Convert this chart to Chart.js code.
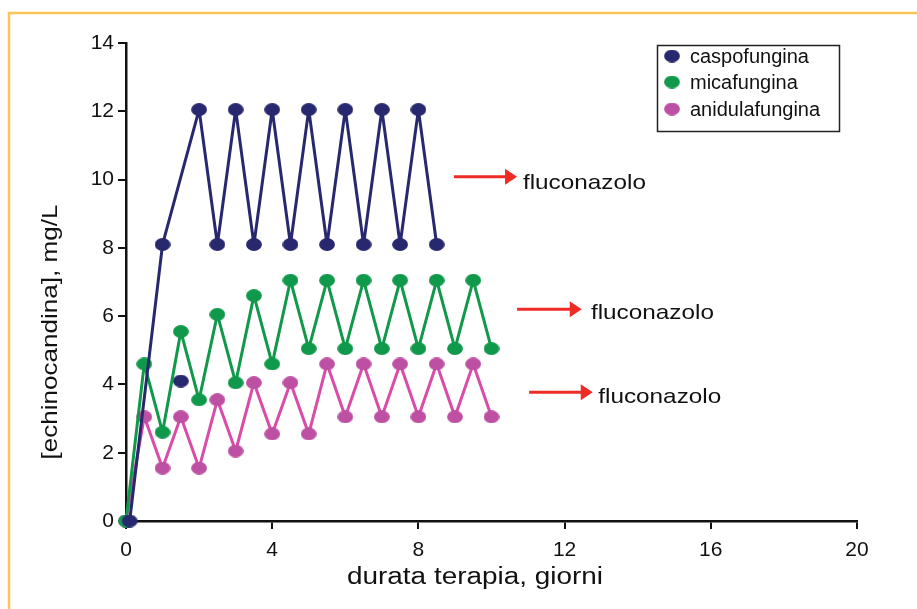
<!DOCTYPE html>
<html><head><meta charset="utf-8">
<script src="https://cdn.jsdelivr.net/npm/chart.js@4.4.1/dist/chart.umd.min.js"></script>
<style>html,body{margin:0;padding:0;background:#fff;}#wrap{width:917px;height:609px;}</style>
</head><body><div id="wrap"><canvas id="c" width="917" height="609"></canvas></div>
<script>
// ---- data ----
const seriesNames = ['caspofungina', 'micafungina', 'anidulafungina'];
const caspoX = [0.1, 1, 2, 2.5, 3, 3.5, 4, 4.5, 5, 5.5, 6, 6.5, 7, 7.5, 8, 8.5];
const caspoY = [0, 8.1, 12.05, 8.1, 12.05, 8.1, 12.05, 8.1, 12.05, 8.1, 12.05, 8.1, 12.05, 8.1, 12.05, 8.1];
const caspoLoneX = [1.5];
const caspoLoneY = [4.1];
const micaX = [0, 0.5, 1, 1.5, 2, 2.5, 3, 3.5, 4, 4.5, 5, 5.5, 6, 6.5, 7, 7.5, 8, 8.5, 9, 9.5, 10];
const micaY = [0, 4.6, 2.6, 5.55, 3.55, 6.05, 4.05, 6.6, 4.6, 7.05, 5.05, 7.05, 5.05, 7.05, 5.05, 7.05, 5.05, 7.05, 5.05, 7.05, 5.05];
const anidX = [0, 0.5, 1, 1.5, 2, 2.5, 3, 3.5, 4, 4.5, 5, 5.5, 6, 6.5, 7, 7.5, 8, 8.5, 9, 9.5, 10];
const anidY = [0, 3.05, 1.55, 3.05, 1.55, 3.55, 2.05, 4.05, 2.55, 4.05, 2.55, 4.6, 3.05, 4.6, 3.05, 4.6, 3.05, 4.6, 3.05, 4.6, 3.05];
const xTicks = [0, 4, 8, 12, 16, 20];
const yTicks = [0, 2, 4, 6, 8, 10, 12, 14];
const xTitle = 'durata terapia, giorni';
const yTitle = '[echinocandina], mg/L';
const noteText = 'fluconazolo';
const noteFromX = [8.97, 10.70, 11.03];
const noteToX = [10.70, 12.47, 12.77];
const noteArrowY = [10.08, 6.2, 3.77];
const noteTextX = [10.86, 12.72, 12.92];
const noteTextY = [9.9, 6.08, 3.62];

// ---- styles ----
const FONT = '"Liberation Sans", Arial, Helvetica, sans-serif';
const navy = '#28286f', green = '#10994a', pinkDot = '#bd50a3', pinkLine = '#d94ca8';
function ellipseImg(color) {
  const c = document.createElement('canvas');
  c.width = 16; c.height = 13;
  const g = c.getContext('2d');
  g.fillStyle = color;
  g.beginPath(); g.ellipse(8, 6.5, 7.9, 6.4, 0, 0, Math.PI * 2); g.fill();
  return c;
}
const imgs = [ellipseImg(navy), ellipseImg(green), ellipseImg(pinkDot)];
const zip = (xs, ys) => xs.map((x, i) => ({x, y: ys[i]}));

function stretchText(ctx, text, cx, cy, size, target, rot) {
  ctx.save();
  ctx.font = size + 'px ' + FONT;
  const w = ctx.measureText(text).width;
  ctx.translate(cx, cy);
  if (rot) ctx.rotate(rot);
  ctx.scale(target / w, 1);
  ctx.textAlign = 'center'; ctx.textBaseline = 'middle';
  ctx.fillText(text, 0, 0);
  ctx.restore();
}

const decor = {
  id: 'decor',
  beforeDraw(chart) {
    const ctx = chart.ctx;
    ctx.save();
    ctx.fillStyle = '#fff'; ctx.fillRect(0, 0, chart.width, chart.height);
    ctx.strokeStyle = '#fbc55b'; ctx.lineWidth = 2.5;
    ctx.strokeRect(9, 13, 1200, 1200);
    ctx.restore();
  },
  afterDraw(chart) {
    const ctx = chart.ctx, xs = chart.scales.x, ys = chart.scales.y;
    ctx.save();
    ctx.fillStyle = '#111';
    // axis titles
    stretchText(ctx, xTitle, 475, 578, 23, 256, 0);
    stretchText(ctx, yTitle, 51, 332, 22, 255, -Math.PI / 2);
    // arrows + notes
    for (let i = 0; i < noteFromX.length; i++) {
      const x0 = xs.getPixelForValue(noteFromX[i]);
      const x1 = xs.getPixelForValue(noteToX[i]);
      const y = ys.getPixelForValue(noteArrowY[i]);
      ctx.strokeStyle = '#ee2b24'; ctx.fillStyle = '#ee2b24'; ctx.lineWidth = 3;
      ctx.beginPath(); ctx.moveTo(x0, y); ctx.lineTo(x1 - 11, y); ctx.stroke();
      ctx.beginPath(); ctx.moveTo(x1 - 12, y - 8); ctx.lineTo(x1, y); ctx.lineTo(x1 - 12, y + 8); ctx.closePath(); ctx.fill();
      ctx.save();
      ctx.fillStyle = '#111';
      ctx.font = '21px ' + FONT;
      const w = ctx.measureText(noteText).width;
      ctx.translate(xs.getPixelForValue(noteTextX[i]), ys.getPixelForValue(noteTextY[i]));
      ctx.scale(123 / w, 1);
      ctx.textAlign = 'left'; ctx.textBaseline = 'middle';
      ctx.fillText(noteText, 0, 0);
      ctx.restore();
    }
    // legend
    ctx.strokeStyle = '#222'; ctx.lineWidth = 1.5;
    ctx.strokeRect(657.5, 45.5, 182, 86);
    const rowsY = [56, 82, 109];
    ctx.font = '20px ' + FONT; ctx.fillStyle = '#111';
    ctx.textAlign = 'left'; ctx.textBaseline = 'middle';
    seriesNames.forEach((n, i) => {
      ctx.drawImage(imgs[i], 672 - 8, rowsY[i] - 6.5);
      ctx.fillText(n, 690, rowsY[i] + 1);
    });
    ctx.restore();
  }
};

new Chart(document.getElementById('c'), {
  type: 'scatter',
  data: {
    datasets: [
      {label: seriesNames[0], data: zip(caspoX, caspoY), showLine: true, borderColor: navy, borderWidth: 3,
        borderJoinStyle: 'round', pointStyle: imgs[0], clip: false, order: 1},
      {label: seriesNames[0] + '_lone', data: zip(caspoLoneX, caspoLoneY), showLine: false,
        pointStyle: imgs[0], clip: false, order: 1},
      {label: seriesNames[1], data: zip(micaX, micaY), showLine: true, borderColor: green, borderWidth: 3,
        borderJoinStyle: 'round', pointStyle: imgs[1], clip: false, order: 2},
      {label: seriesNames[2], data: zip(anidX, anidY), showLine: true, borderColor: pinkLine, borderWidth: 3,
        borderJoinStyle: 'round', pointStyle: imgs[2], clip: false, order: 3}
    ]
  },
  options: {
    responsive: false,
    animation: false,
    events: [],
    layout: {padding: {left: 0, top: 43, right: 60, bottom: 0}},
    plugins: {legend: {display: false}, tooltip: {enabled: false}},
    scales: {
      x: {
        type: 'linear', min: 0, max: 20,
        afterBuildTicks: s => { s.ticks = xTicks.map(v => ({value: v})); },
        afterFit: s => { s.height = 88; },
        grid: {drawOnChartArea: false, drawTicks: true, tickLength: 8, color: '#111', lineWidth: 2},
        border: {display: true, color: '#111', width: 2.5},
        ticks: {color: '#111', font: {family: FONT, size: 21}, padding: 9, maxRotation: 0}
      },
      y: {
        type: 'linear', min: 0, max: 14,
        afterBuildTicks: s => { s.ticks = yTicks.map(v => ({value: v})); },
        afterFit: s => { s.width = 126; },
        grid: {drawOnChartArea: false, drawTicks: true, tickLength: 8, color: '#111', lineWidth: 2},
        border: {display: true, color: '#111', width: 2.5},
        ticks: {color: '#111', font: {family: FONT, size: 21}, padding: 4}
      }
    }
  },
  plugins: [decor]
});
</script>
</body></html>
